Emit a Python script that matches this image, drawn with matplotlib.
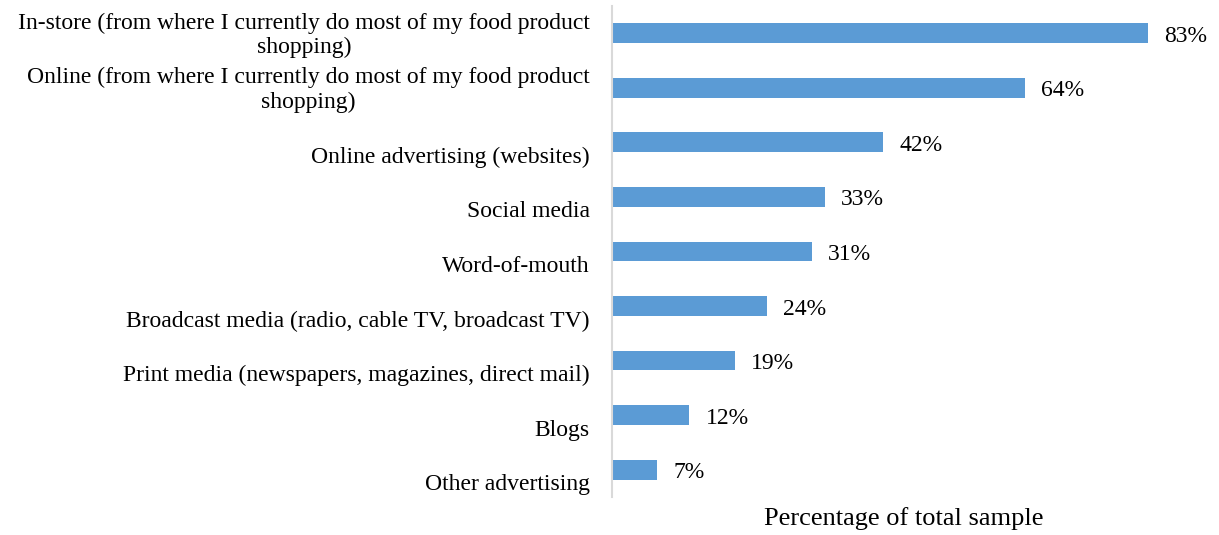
import numpy as np
import matplotlib.pyplot as plt
import matplotlib.transforms as mtransforms

plt.rcParams['font.family'] = ['Liberation Serif', 'DejaVu Serif']

categories = [
    "In-store (from where I currently do most of my food product\nshopping)",
    "Online (from where I currently do most of my food product\nshopping)",
    "Online advertising (websites)",
    "Social media",
    "Word-of-mouth",
    "Broadcast media (radio, cable TV, broadcast TV)",
    "Print media (newspapers, magazines, direct mail)",
    "Blogs",
    "Other advertising",
]
values = [83, 64, 42, 33, 31, 24, 19, 12, 7]

fig = plt.figure(figsize=(12.19, 5.35), dpi=100)
ax = fig.add_axes([0.502, 0.071, 0.479, 0.918])

y = np.arange(len(values))
ax.barh(y, values, height=0.36, color='#5B9BD5')
ax.set_ylim(len(values) - 0.5, -0.5)
ax.set_xlim(0, 90.4)

for s in ['top', 'right', 'bottom']:
    ax.spines[s].set_visible(False)
ax.spines['left'].set_color('#D9D9D9')
ax.spines['left'].set_linewidth(1.5)
ax.set_xticks([])
ax.set_yticks([])

# category labels, single-line ones sit a bit lower like in Excel
for i, c in enumerate(categories):
    dy = -2 if '\n' in c else -15
    tr = ax.get_yaxis_transform() + mtransforms.ScaledTranslation(-22 / 100, dy / 100, fig.dpi_scale_trans)
    ax.text(0, i, c, transform=tr, ha='right', va='center', fontsize=17,
            multialignment='center', linespacing=1.2)

for i, v in enumerate(values):
    ax.annotate(f"{v}%", (v, i), xytext=(16, -3), textcoords='offset pixels',
                ha='left', va='center', fontsize=17)

fig.text(904 / 1219, 1 - 519 / 535, "Percentage of total sample", ha='center', va='center', fontsize=19)

fig.savefig('out.png', dpi=100)
